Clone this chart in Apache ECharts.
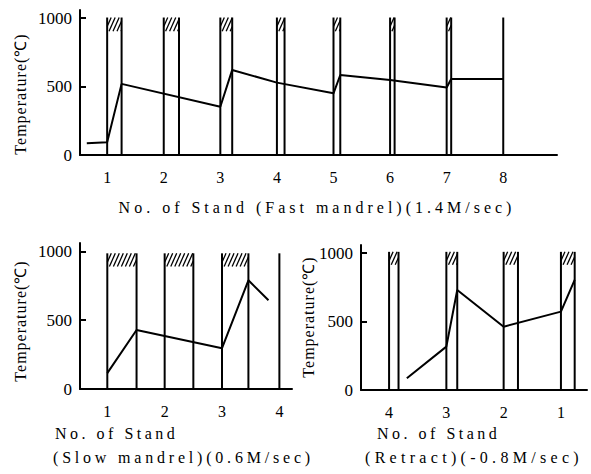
<!DOCTYPE html>
<html>
<head>
<meta charset="utf-8">
<title>Temperature by stand</title>
<script src="https://cdn.jsdelivr.net/npm/echarts@6/dist/echarts.min.js"></script>
<style>
  html, body { margin: 0; padding: 0; background: #fff; }
  #chart { width: 591px; height: 474px; }
</style>
</head>
<body>
<div id="chart"></div>
<script>
// --- data (x in stand units, y in deg C) ---
var fastStandLabels = [1, 2, 3, 4, 5, 6, 7, 8];
var fastEnter = [1, 2, 3, 4, 5, 6, 7, 8];
var fastExit = [1.255, 2.27, 3.21, 4.135, 5.12, 6.08, 7.08, 8];
var fastX = [0.64, 1.0, 1.255, 3.0, 3.21, 4.0, 5.0, 5.12, 6.0, 7.0, 7.08, 8.0];
var fastTemp = [86, 93, 520, 353, 622, 529, 451, 585, 549, 493, 556, 556];

var slowStandLabels = [1, 2, 3, 4];
var slowEnter = [1, 2, 3, 4];
var slowExit = [1.51, 2.5, 3.46, 4];
var slowX = [1.0, 1.51, 3.0, 3.46, 3.81];
var slowTemp = [115, 428, 296, 789, 644];

var retractStandLabels = [4, 3, 2, 1];
var retractEnter = [4, 3, 2, 1];
var retractExit = [3.835, 2.81, 1.75, 0.76];
var retractX = [3.69, 3.0, 2.81, 2.0, 1.0, 0.76];
var retractTemp = [86, 317, 731, 463, 573, 805];

var tempTicks = [0, 500, 1000];

var fontFamily = 'Liberation Serif';
var titles = {
  fast: 'No. of Stand (Fast mandrel)(1.4M/sec)',
  stand: 'No. of Stand',
  slow: '(Slow mandrel)(0.6M/sec)',
  retract: '(Retract)(-0.8M/sec)',
  temp: 'Temperature(℃)'
};
// the printed captions are letter-spaced
var spacing = {};
spacing[titles.fast] = '4px';
spacing[titles.stand] = '3.5px';
spacing[titles.slow] = '3.8px';
spacing[titles.retract] = '4.3px';
spacing[titles.temp] = '1px';

function pairs(xs, ys) {
  return xs.map(function (x, i) { return [x, ys[i]]; });
}
function stands(enter, exit, top, hatchLow) {
  return enter.map(function (x, i) { return [x, exit[i], top, hatchLow]; });
}

// vertical roll lines with hatched box at the top
function renderStand(params, api) {
  var enter = api.value(0), exit = api.value(1);
  var top = api.value(2), low = api.value(3);
  var a0 = api.coord([enter, 0]), a1 = api.coord([enter, top]);
  var b0 = api.coord([exit, 0]), b1 = api.coord([exit, top]);
  var lineStyle = { stroke: '#000', lineWidth: 2 };
  var children = [
    { type: 'line', shape: { x1: a0[0], y1: a0[1], x2: a1[0], y2: a1[1] }, style: lineStyle }
  ];
  if (Math.abs(b0[0] - a0[0]) > 0.5) {
    children.push({ type: 'line', shape: { x1: b0[0], y1: b0[1], x2: b1[0], y2: b1[1] }, style: lineStyle });
    var xl = Math.min(a0[0], b0[0]), xr = Math.max(a0[0], b0[0]);
    var yt = a1[1], yb = api.coord([enter, low])[1];
    var h = yb - yt, d = h * 0.45;
    for (var t = xl - d; t < xr; t += 4) {
      var u0 = Math.max(0, (xl - t) / d), u1 = Math.min(1, (xr - t) / d);
      if (u1 > u0) {
        children.push({
          type: 'line',
          shape: { x1: t + d * u0, y1: yb - h * u0, x2: t + d * u1, y2: yb - h * u1 },
          style: { stroke: '#000', lineWidth: 1.3 }
        });
      }
    }
  }
  return { type: 'group', children: children };
}

function xAxisOf(grid, min, max, labels, inverse) {
  return {
    type: 'value', gridIndex: grid, min: min, max: max, inverse: !!inverse,
    axisLine: { lineStyle: { color: '#000', width: 2 } },
    axisTick: { show: false },
    splitLine: { show: false },
    axisLabel: { customValues: labels, color: '#000', fontSize: 16, fontFamily: fontFamily, margin: 14 }
  };
}
function yAxisOf(grid) {
  return {
    type: 'value', gridIndex: grid, min: 0, max: 1060,
    axisLine: { lineStyle: { color: '#000', width: 2 } },
    axisTick: { customValues: tempTicks, inside: true, length: 6, lineStyle: { width: 2 } },
    splitLine: { show: false },
    axisLabel: {
      customValues: tempTicks, color: '#000', fontSize: 17, fontFamily: fontFamily, margin: 8,
      formatter: function (v) { return String(v); }
    }
  };
}
function tempLine(i, xs, ys) {
  return {
    type: 'line', xAxisIndex: i, yAxisIndex: i, data: pairs(xs, ys),
    symbol: 'none', lineStyle: { color: '#000', width: 2 }
  };
}
function standSeries(i, data) {
  return {
    type: 'custom', xAxisIndex: i, yAxisIndex: i, data: data,
    renderItem: renderStand, silent: true
  };
}
function label(text, x, y, align, rotate) {
  return {
    type: 'text', x: x, y: y, rotation: rotate ? Math.PI / 2 : 0,
    style: { text: text, fill: '#000', font: '16px "' + fontFamily + '"', textAlign: align, textVerticalAlign: 'middle' }
  };
}
function spaceCaptions() {
  var nodes = document.querySelectorAll('#chart text');
  for (var i = 0; i < nodes.length; i++) {
    var s = spacing[nodes[i].textContent.trim()];
    if (s) nodes[i].style.letterSpacing = s;
  }
}

var chart = echarts.init(document.getElementById('chart'), null, { renderer: 'svg' });
chart.on('finished', spaceCaptions);
chart.setOption({
  animation: false,
  grid: [
    { left: 80, top: 10, width: 477, height: 145 },
    { left: 80, top: 243, width: 212, height: 146 },
    { left: 361, top: 245, width: 226, height: 145 }
  ],
  xAxis: [
    xAxisOf(0, 0.52, 8.95, fastStandLabels),
    xAxisOf(1, 0.524, 4.22, slowStandLabels),
    xAxisOf(2, 0.545, 4.49, retractStandLabels, true)
  ],
  yAxis: [yAxisOf(0), yAxisOf(1), yAxisOf(2)],
  series: [
    standSeries(0, stands(fastEnter, fastExit, 1005, 905)),
    standSeries(1, stands(slowEnter, slowExit, 985, 890)),
    standSeries(2, stands(retractEnter, retractExit, 1010, 915)),
    tempLine(0, fastX, fastTemp),
    tempLine(1, slowX, slowTemp),
    tempLine(2, retractX, retractTemp)
  ],
  graphic: [
    label(titles.temp, 20, 94, 'center', true),
    label(titles.temp, 20, 321, 'center', true),
    label(titles.temp, 308, 317, 'center', true),
    label(titles.fast, 317, 207, 'center'),
    label(titles.stand, 55, 433, 'left'),
    label(titles.slow, 53, 457, 'left'),
    label(titles.stand, 377, 433, 'left'),
    label(titles.retract, 365, 457, 'left')
  ]
});
setTimeout(spaceCaptions, 0);
</script>
</body>
</html>
